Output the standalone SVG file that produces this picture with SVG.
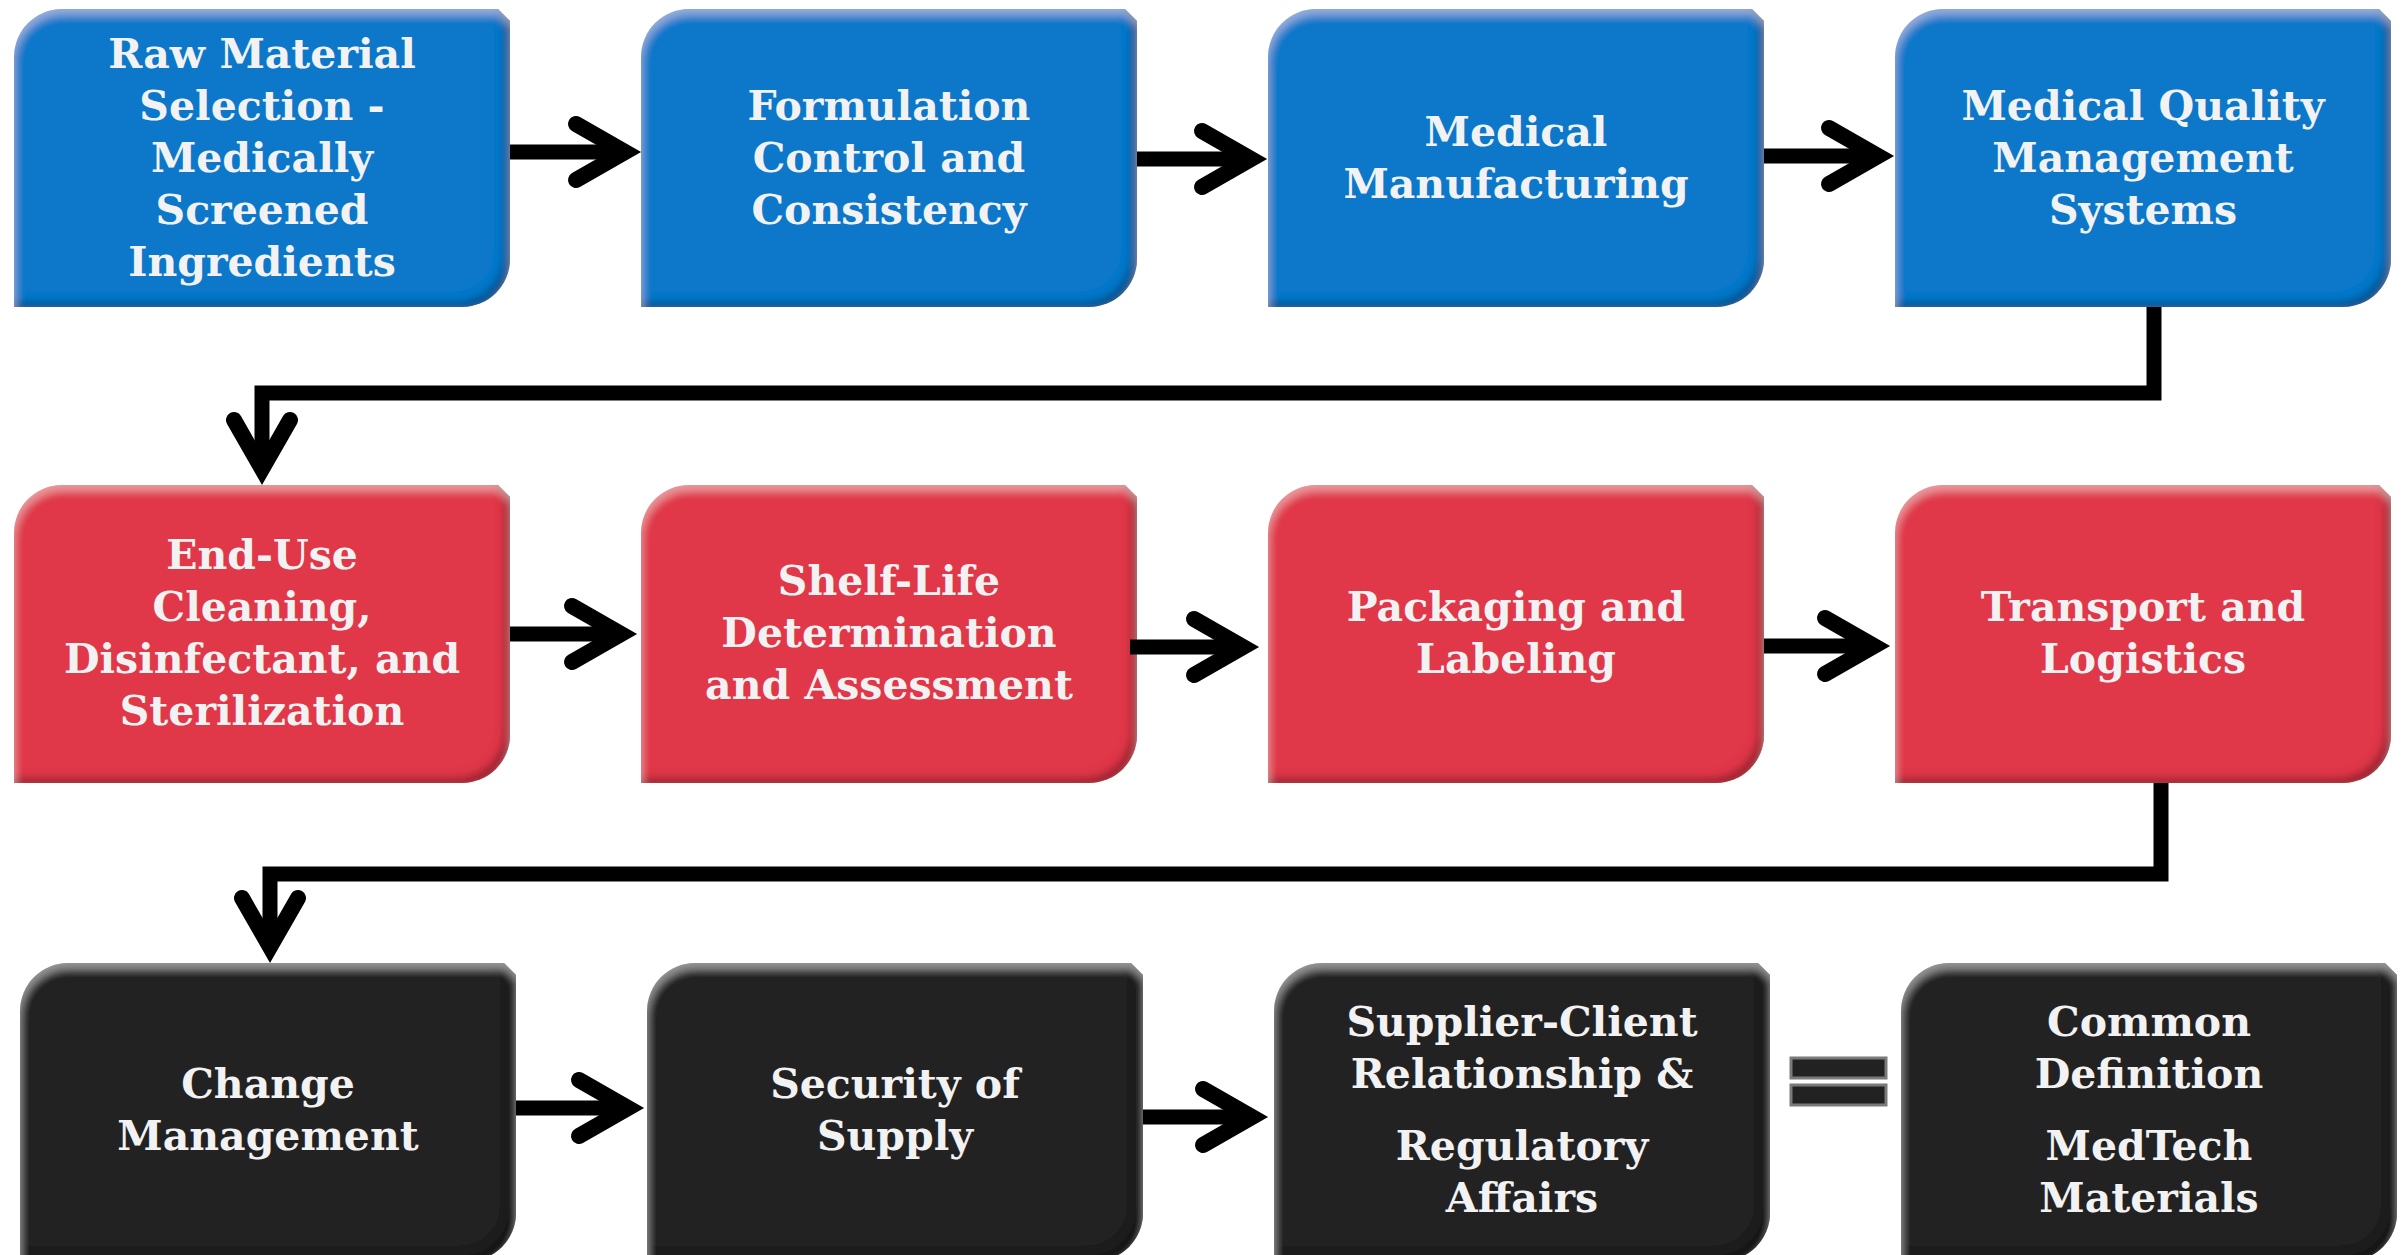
<svg xmlns="http://www.w3.org/2000/svg" xmlns:xlink="http://www.w3.org/1999/xlink" width="2405" height="1255" viewBox="0 0 2405 1255">
<style>
.blue{fill:#0878CA}
.red{fill:#E0374A}
.dark{fill:#232323}
.lbl{font-family:"DejaVu Serif","Liberation Serif",serif;font-weight:bold;font-size:41px;fill:#F2F2F2;text-anchor:middle}
.con{fill:none;stroke:#000;stroke-width:15;stroke-linejoin:miter}
.eq{fill:#222;stroke:#7a7a7a;stroke-width:3}
</style>
<defs>
<path id="box" d="M0,298 V48 A48,48 0 0 1 48,0 H484 L496,12 V250 A48,48 0 0 1 448,298 Z"/>
<filter id="bevel" x="-5%" y="-5%" width="110%" height="110%">
<feGaussianBlur in="SourceAlpha" stdDeviation="4" result="b"/>
<feOffset in="b" dx="-6" dy="-5" result="o1"/>
<feComposite in="SourceAlpha" in2="o1" operator="out" result="sm"/>
<feFlood flood-color="#000" flood-opacity="0.55"/>
<feComposite in2="sm" operator="in" result="sh"/>
<feOffset in="b" dx="1" dy="6" result="o2"/>
<feComposite in="SourceAlpha" in2="o2" operator="out" result="hm"/>
<feFlood flood-color="#fff" flood-opacity="0.3"/>
<feComposite in2="hm" operator="in" result="hl"/>
<feMerge><feMergeNode in="SourceGraphic"/><feMergeNode in="sh"/><feMergeNode in="hl"/></feMerge>
</filter>
<marker id="head" markerUnits="userSpaceOnUse" markerWidth="100" markerHeight="100" refX="0" refY="0" orient="auto" overflow="visible">
<polyline points="-49,-28 0,0 -49,28" fill="none" stroke="#000" stroke-width="16" stroke-linecap="round" stroke-linejoin="miter"/>
</marker>
</defs>
<rect width="2405" height="1255" fill="#fff"/>

<g id="n1" transform="translate(14,9)"><use xlink:href="#box" class="blue" filter="url(#bevel)"/>
<text class="lbl"><tspan x="248" y="59">Raw Material</tspan><tspan x="248" y="111">Selection -</tspan><tspan x="248" y="163">Medically</tspan><tspan x="248" y="215">Screened</tspan><tspan x="248" y="267">Ingredients</tspan></text></g>
<g id="n2" transform="translate(641,9)"><use xlink:href="#box" class="blue" filter="url(#bevel)"/>
<text class="lbl"><tspan x="248" y="111">Formulation</tspan><tspan x="248" y="163">Control and</tspan><tspan x="248" y="215">Consistency</tspan></text></g>
<g id="n3" transform="translate(1268,9)"><use xlink:href="#box" class="blue" filter="url(#bevel)"/>
<text class="lbl"><tspan x="248" y="137">Medical</tspan><tspan x="248" y="189">Manufacturing</tspan></text></g>
<g id="n4" transform="translate(1895,9)"><use xlink:href="#box" class="blue" filter="url(#bevel)"/>
<text class="lbl"><tspan x="248" y="111">Medical Quality</tspan><tspan x="248" y="163">Management</tspan><tspan x="248" y="215">Systems</tspan></text></g>

<g id="n5" transform="translate(14,485)"><use xlink:href="#box" class="red" filter="url(#bevel)"/>
<text class="lbl"><tspan x="248" y="84">End-Use</tspan><tspan x="248" y="136">Cleaning,</tspan><tspan x="248" y="188">Disinfectant, and</tspan><tspan x="248" y="240">Sterilization</tspan></text></g>
<g id="n6" transform="translate(641,485)"><use xlink:href="#box" class="red" filter="url(#bevel)"/>
<text class="lbl"><tspan x="248" y="110">Shelf-Life</tspan><tspan x="248" y="162">Determination</tspan><tspan x="248" y="214">and Assessment</tspan></text></g>
<g id="n7" transform="translate(1268,485)"><use xlink:href="#box" class="red" filter="url(#bevel)"/>
<text class="lbl"><tspan x="248" y="136">Packaging and</tspan><tspan x="248" y="188">Labeling</tspan></text></g>
<g id="n8" transform="translate(1895,485)"><use xlink:href="#box" class="red" filter="url(#bevel)"/>
<text class="lbl"><tspan x="248" y="136">Transport and</tspan><tspan x="248" y="188">Logistics</tspan></text></g>

<g id="n9" transform="translate(20,963)"><use xlink:href="#box" class="dark" filter="url(#bevel)"/>
<text class="lbl"><tspan x="248" y="135">Change</tspan><tspan x="248" y="187">Management</tspan></text></g>
<g id="n10" transform="translate(647,963)"><use xlink:href="#box" class="dark" filter="url(#bevel)"/>
<text class="lbl"><tspan x="248" y="135">Security of</tspan><tspan x="248" y="187">Supply</tspan></text></g>
<g id="n11" transform="translate(1274,963)"><use xlink:href="#box" class="dark" filter="url(#bevel)"/>
<text class="lbl"><tspan x="248" y="73">Supplier-Client</tspan><tspan x="248" y="125">Relationship &amp;</tspan><tspan x="248" y="197">Regulatory</tspan><tspan x="248" y="249">Affairs</tspan></text></g>
<g id="n12" transform="translate(1901,963)"><use xlink:href="#box" class="dark" filter="url(#bevel)"/>
<text class="lbl"><tspan x="248" y="73">Common</tspan><tspan x="248" y="125">Definition</tspan><tspan x="248" y="197">MedTech</tspan><tspan x="248" y="249">Materials</tspan></text></g>

<g id="connectors">
<path class="con" marker-end="url(#head)" d="M510,152 H625"/>
<path class="con" marker-end="url(#head)" d="M1137,159 H1251"/>
<path class="con" marker-end="url(#head)" d="M1764,156 H1878"/>
<path class="con" marker-end="url(#head)" d="M2154,307 V393 H262 V469"/>
<path class="con" marker-end="url(#head)" d="M510,634 H621"/>
<path class="con" marker-end="url(#head)" d="M1130,647 H1243"/>
<path class="con" marker-end="url(#head)" d="M1764,646 H1874"/>
<path class="con" marker-end="url(#head)" d="M2161,783 V874 H270 V947"/>
<path class="con" marker-end="url(#head)" d="M516,1108 H628"/>
<path class="con" marker-end="url(#head)" d="M1143,1117 H1252"/>
</g>
<g id="equals">
<rect class="eq" x="1791" y="1058" width="95" height="20"/>
<rect class="eq" x="1791" y="1085" width="95" height="20"/>
</g>
</svg>
